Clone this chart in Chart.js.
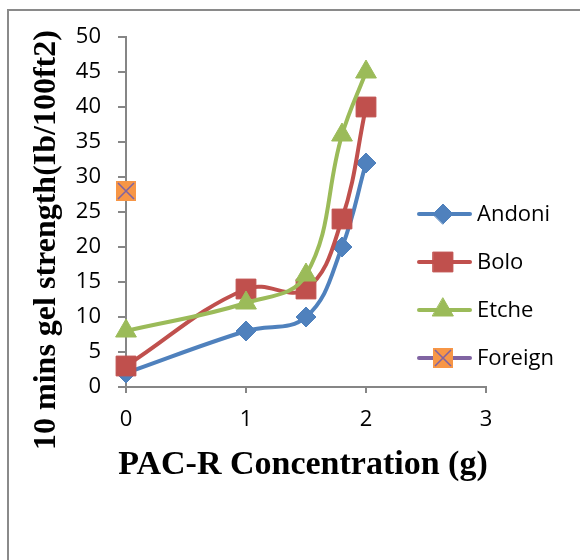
<!DOCTYPE html>
<html>
<head>
<meta charset="utf-8">
<script src="https://cdn.jsdelivr.net/npm/chart.js@4"></script>
<style>
  body { margin: 0; background: #fff; }
  canvas { display: block; }
</style>
</head>
<body>
<canvas id="myChart" width="580" height="560"></canvas>
<script>
// values
const concentration = [0, 1, 1.5, 1.8, 2];
const andoni = [2, 8, 10, 20, 32];
const bolo = [3, 14, 14, 24, 40];
const etche = [8, 12, 16, 36, 45];
const foreignX = [0];
const foreign = [28];
const seriesNames = ['Andoni', 'Bolo', 'Etche', 'Foreign'];
const xTitle = 'PAC-R Concentration (g)';
const yTitle = '10 mins gel strength(Ib/100ft2)';

const toPoints = (xs, ys) => xs.map((x, i) => ({ x: x, y: ys[i] }));

// orange square with a purple cross, like the Excel marker
function foreignMarker() {
  const c = document.createElement('canvas');
  c.width = 20; c.height = 20;
  const g = c.getContext('2d');
  g.fillStyle = '#F79646';
  g.fillRect(0, 0, 20, 20);
  g.strokeStyle = '#8064A2';
  g.lineWidth = 1.6;
  g.beginPath();
  g.moveTo(2, 2); g.lineTo(18, 18);
  g.moveTo(18, 2); g.lineTo(2, 18);
  g.stroke();
  return c;
}
const foreignImg = foreignMarker();

function series(label, xs, ys, color, style, radius, order) {
  return {
    label: label,
    data: toPoints(xs, ys),
    showLine: true,
    borderColor: color,
    backgroundColor: color,
    borderWidth: 4,
    tension: 0.4,
    pointStyle: style,
    pointRadius: radius,
    pointHoverRadius: radius,
    pointBorderWidth: 1,
    clip: false,
    order: order
  };
}

const datasets = [
  series(seriesNames[0], concentration, andoni, '#4F81BD', 'rectRot', 10, 4),
  series(seriesNames[1], concentration, bolo, '#C0504D', 'rect', 14, 3),
  series(seriesNames[2], concentration, etche, '#9BBB59', 'triangle', 12, 2),
  {
    label: seriesNames[3],
    data: toPoints(foreignX, foreign),
    showLine: true,
    borderColor: '#8064A2',
    backgroundColor: '#F79646',
    borderWidth: 4,
    pointStyle: foreignImg,
    clip: false,
    order: 1
  }
];

const legendInfo = [
  { color: '#4F81BD', style: 'rectRot', radius: 10 },
  { color: '#C0504D', style: 'rect', radius: 14 },
  { color: '#9BBB59', style: 'triangle', radius: 12 },
  { color: '#8064A2', style: foreignImg, radius: 10 }
];

const extras = {
  id: 'extras',
  beforeDraw(chart) {
    const ctx = chart.ctx;
    ctx.save();
    ctx.strokeStyle = '#8a8a8a';
    ctx.lineWidth = 2;
    ctx.beginPath();
    ctx.moveTo(8, 600);
    ctx.lineTo(8, 10);
    ctx.lineTo(600, 10);
    ctx.stroke();
    ctx.restore();
  },
  afterDraw(chart) {
    const ctx = chart.ctx;
    ctx.save();
    // axis titles
    ctx.fillStyle = '#000';
    ctx.textAlign = 'center';
    ctx.textBaseline = 'middle';
    ctx.font = 'bold 34px "Liberation Serif"';
    ctx.fillText(xTitle, 303, 465);
    ctx.translate(47, 240);
    ctx.rotate(-Math.PI / 2);
    ctx.font = 'bold 32px "Liberation Serif"';
    ctx.fillText(yTitle, 0, 0);
    ctx.restore();

    // legend
    ctx.save();
    legendInfo.forEach((item, i) => {
      const y = 214 + i * 48;
      ctx.strokeStyle = item.color;
      ctx.lineWidth = 4;
      ctx.lineCap = 'round';
      ctx.beginPath();
      ctx.moveTo(419, y);
      ctx.lineTo(470, y);
      ctx.stroke();
      ctx.fillStyle = item.color;
      ctx.lineWidth = 1;
      Chart.helpers.drawPoint(ctx, {
        pointStyle: item.style, radius: item.radius, rotation: 0, borderWidth: 1
      }, 443, y);
      ctx.fillStyle = '#000';
      ctx.font = '22px "Open Sans"';
      ctx.textAlign = 'left';
      ctx.textBaseline = 'middle';
      ctx.fillText(seriesNames[i], 477, y + 1);
    });
    ctx.restore();
  }
};

const axisColor = '#868686';

new Chart(document.getElementById('myChart').getContext('2d'), {
  type: 'scatter',
  data: { datasets: datasets },
  options: {
    responsive: false,
    animation: false,
    layout: { padding: { left: 8, top: 37, right: 94, bottom: 73 } },
    plugins: { legend: { display: false }, tooltip: { enabled: false } },
    scales: {
      x: {
        type: 'linear',
        min: 0, max: 3,
        ticks: { stepSize: 1, color: '#000', font: { family: 'Open Sans', size: 22 }, padding: 14 },
        grid: { drawOnChartArea: false, drawTicks: true, tickLength: 6, color: axisColor, lineWidth: 2 },
        border: { color: axisColor, width: 2 },
        afterFit(scale) { scale.height = 100; }
      },
      y: {
        min: 0, max: 50,
        ticks: { stepSize: 5, color: '#000', font: { family: 'Open Sans', size: 22 }, padding: 17 },
        grid: { drawOnChartArea: false, drawTicks: true, tickLength: 8, color: axisColor, lineWidth: 2 },
        border: { color: axisColor, width: 2 },
        afterFit(scale) { scale.width = 118; }
      }
    }
  },
  plugins: [extras]
});
</script>
</body>
</html>
